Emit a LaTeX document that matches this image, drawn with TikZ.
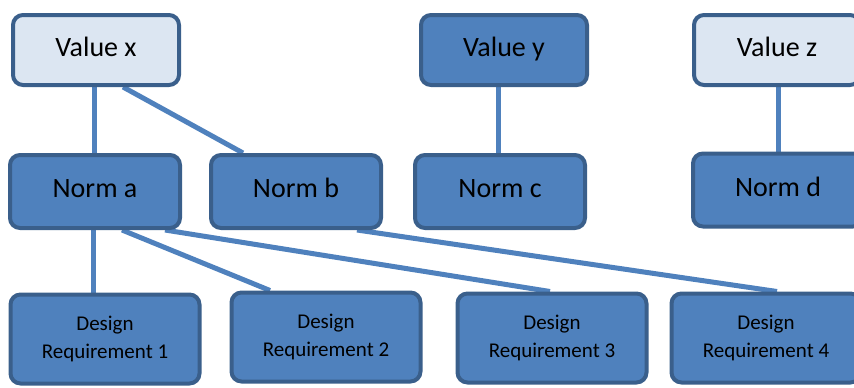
\documentclass[tikz,border=0pt]{standalone}
\usepackage{fontspec}
\setmainfont{Carlito}
\usetikzlibrary{backgrounds}
\definecolor{bordc}{HTML}{3A5F8B}
\definecolor{darkf}{HTML}{4F81BD}
\definecolor{lightf}{HTML}{DCE6F2}
\definecolor{linec}{HTML}{4F81BD}
\begin{document}
\begin{tikzpicture}[x=1pt,y=-1pt,
  box/.style={draw=bordc, line width=4pt, rounded corners=10pt, text=black, align=center, inner sep=0pt},
  valbox/.style={box, minimum width=166pt, minimum height=70pt, text height=19pt, text depth=7pt, font=\fontsize{28}{34}\selectfont},
  normbox/.style={box, fill=darkf, minimum width=170pt, minimum height=73pt, text height=19pt, text depth=7pt, font=\fontsize{28}{34}\selectfont},
  reqbox/.style={box, fill=darkf, minimum width=189pt, minimum height=89pt, font=\fontsize{21}{28}\selectfont},
  conn/.style={draw=linec, line width=5pt}]
\useasboundingbox (0,0) rectangle (854,388);
\node[valbox, fill=lightf] (Vx) at (96,50) {Value x};
\node[valbox, fill=darkf] (Vy) at (504,50) {Value y};
\node[valbox, fill=lightf] (Vz) at (777,50) {Value z};
\node[normbox] (Na) at (95,191.5) {Norm a};
\node[normbox] (Nb) at (296,191.5) {Norm b};
\node[normbox] (Nc) at (500,191.5) {Norm c};
\node[normbox] (Nd) at (778,190) {Norm d};
\node[reqbox] (D1) at (105,339) {Design\\Requirement 1};
\node[reqbox] (D2) at (326,337) {Design\\Requirement 2};
\node[reqbox] (D3) at (552,338) {Design\\Requirement 3};
\node[reqbox] (D4) at (766,338) {Design\\Requirement 4};
\begin{scope}[on background layer]
\draw[conn] ([xshift=-2pt]Vx.south) -- ([xshift=-1pt]Na.north);
\draw[conn] ([xshift=27pt]Vx.south) -- ([xshift=-53pt]Nb.north);
\draw[conn] ([xshift=-6pt]Vy.south) -- ([xshift=-2pt]Nc.north);
\draw[conn] ([xshift=1pt]Vz.south) -- (Nd.north);
\draw[conn] ([xshift=-2pt]Na.south) -- ([xshift=-12pt]D1.north);
\draw[conn] ([xshift=27pt]Na.south) -- ([xshift=-56pt]D2.north);
\draw[conn] ([xshift=70pt]Na.south) -- ([xshift=-2pt]D3.north);
\draw[conn] ([xshift=61pt]Nb.south) -- ([xshift=11pt]D4.north);
\end{scope}
\end{tikzpicture}
\end{document}
